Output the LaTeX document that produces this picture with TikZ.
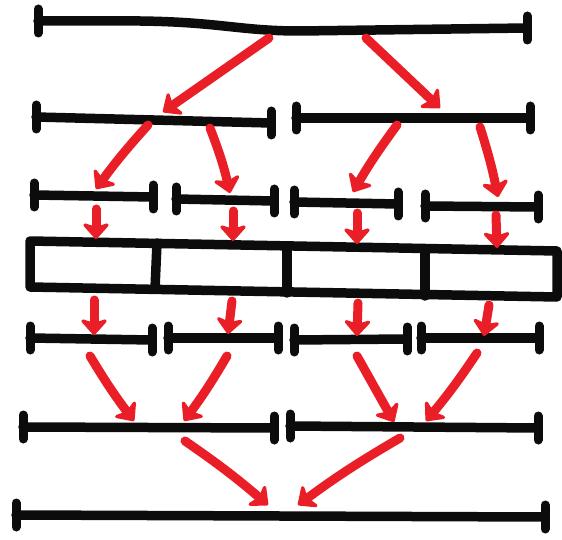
\documentclass[tikz,border=0pt]{standalone}
\usetikzlibrary{arrows.meta}
\definecolor{pen}{RGB}{12,12,12}
\definecolor{redink}{RGB}{234,30,38}
\tikzset{
  bar/.style={line width=9.5pt, line cap=round, line join=round, draw=pen},
  endtick/.style={line width=9pt, line cap=round, draw=pen},
  flow/.style={line width=9pt, draw=redink, line cap=round,
    -{Stealth[length=18pt,width=32pt,inset=5pt,round]}},
}
\newcommand\seg[5]{%
  \coordinate (#1l) at (#2,#3);
  \coordinate (#1r) at (#4,#5);
  \draw[bar] (#1l) -- (#1r);
  \draw[endtick] ([yshift=12pt]#1l) -- ([yshift=-12pt]#1l);
  \draw[endtick] ([yshift=12pt]#1r) -- ([yshift=-12pt]#1r);
}
\begin{document}
\begin{tikzpicture}[x=1pt,y=-1pt]
\useasboundingbox (0,0) rectangle (562,540);
% row 1
\coordinate (r1l) at (38,21);
\coordinate (r1r) at (527,28);
\draw[bar] (r1l) -- (140,21) .. controls (220,22) and (240,31) .. (300,31) -- (r1r);
\draw[endtick] ([yshift=12pt]r1l) -- ([yshift=-12pt]r1l);
\draw[endtick] ([yshift=12pt]r1r) -- ([yshift=-12pt]r1r);
% row 2
\seg{r2a}{36}{117}{271}{123}
\seg{r2b}{296}{118}{530}{118}
% row 3
\seg{r3a}{34}{195}{153}{197}
\seg{r3b}{176}{199}{274}{201}
\seg{r3c}{294}{202}{398}{204}
\seg{r3d}{425}{206}{538}{207}
% row 4 boxes
\coordinate (bx1) at (30,241);
\coordinate (bx2) at (557,251);
\coordinate (bx3) at (557,297);
\coordinate (bx4) at (30,287);
\draw[bar] (bx1) -- (bx2) -- (bx3) -- (bx4) -- cycle;
\coordinate (dv1t) at (157,243); \coordinate (dv1b) at (155,289);
\coordinate (dv2t) at (287,246); \coordinate (dv2b) at (287,293);
\coordinate (dv3t) at (425,249); \coordinate (dv3b) at (425,296);
\draw[bar] (dv1t) -- (dv1b);
\draw[bar] (dv2t) -- (dv2b);
\draw[bar] (dv3t) -- (dv3b);
% row 5
\seg{r5a}{30}{338}{152}{340}
\seg{r5b}{168}{338}{278}{338}
\seg{r5c}{294}{340}{407}{339}
\seg{r5d}{421}{338}{539}{338}
% row 6
\seg{r6a}{23}{427}{274}{428}
\seg{r6b}{290}{426}{538}{428}
% row 7
\seg{r7}{16}{515}{545}{517}
% arrow end points
\coordinate (a1s) at (269,38);  \coordinate (a1e) at (163,112);
\coordinate (a2s) at (366,38);  \coordinate (a2e) at (440,108);
\coordinate (b1s) at (148,125); \coordinate (b1e) at (96,189);
\coordinate (b2s) at (210,128); \coordinate (b2e) at (230,193);
\coordinate (b3s) at (397,125); \coordinate (b3e) at (353,192);
\coordinate (b4s) at (480,127); \coordinate (b4e) at (498,197);
\coordinate (c1s) at (96,209);  \coordinate (c1e) at (96,239);
\coordinate (c2s) at (233,211); \coordinate (c2e) at (233,241);
\coordinate (c3s) at (357,213); \coordinate (c3e) at (357,244);
\coordinate (c4s) at (496,215); \coordinate (c4e) at (497,248);
\coordinate (d1s) at (94,300);  \coordinate (d1e) at (94,335);
\coordinate (d2s) at (232,301); \coordinate (d2e) at (228,334);
\coordinate (d3s) at (358,303); \coordinate (d3e) at (357,336);
\coordinate (d4s) at (489,305); \coordinate (d4e) at (484,336);
\coordinate (e1s) at (90,356);  \coordinate (e1e) at (134,421);
\coordinate (e2s) at (227,356); \coordinate (e2e) at (184,421);
\coordinate (e3s) at (357,356); \coordinate (e3e) at (394,422);
\coordinate (e4s) at (477,353); \coordinate (e4e) at (426,421);
\coordinate (f1s) at (185,441); \coordinate (f1e) at (268,505);
\coordinate (f2s) at (400,438); \coordinate (f2e) at (298,505);
% arrows
\draw[flow] (a1s) -- (a1e);
\draw[flow] (a2s) -- (a2e);
\draw[flow] (b1s) to[bend right=3] (b1e);
\draw[flow] (b2s) to[bend left=4] (b2e);
\draw[flow] (b3s) to[bend right=3] (b3e);
\draw[flow] (b4s) to[bend left=3] (b4e);
\draw[flow] (c1s) -- (c1e);
\draw[flow] (c2s) -- (c2e);
\draw[flow] (c3s) -- (c3e);
\draw[flow] (c4s) -- (c4e);
\draw[flow] (d1s) -- (d1e);
\draw[flow] (d2s) -- (d2e);
\draw[flow] (d3s) -- (d3e);
\draw[flow] (d4s) -- (d4e);
\draw[flow] (e1s) to[bend right=3] (e1e);
\draw[flow] (e2s) to[bend left=3] (e2e);
\draw[flow] (e3s) -- (e3e);
\draw[flow] (e4s) to[bend left=3] (e4e);
\draw[flow] (f1s) to[bend left=3] (f1e);
\draw[flow] (f2s) to[bend right=3] (f2e);
\end{tikzpicture}
\end{document}
